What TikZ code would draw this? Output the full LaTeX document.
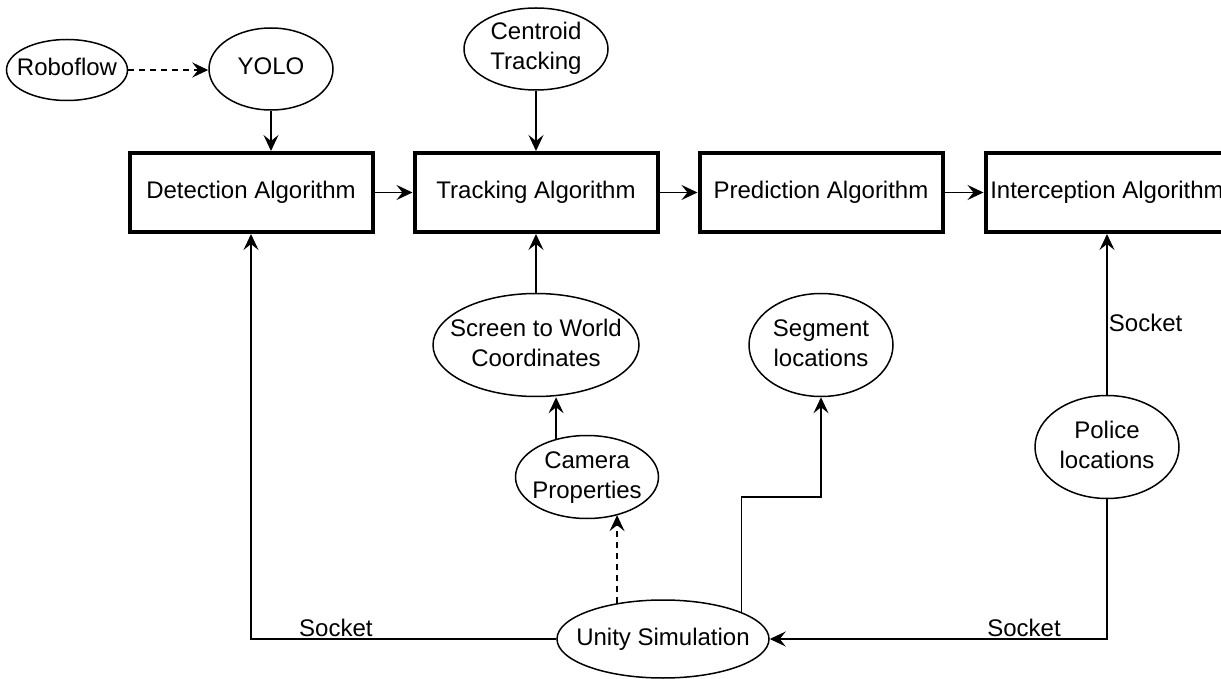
\documentclass[tikz,border=0pt]{standalone}
\usepackage{fontspec}
\setmainfont{Liberation Sans}
\usetikzlibrary{arrows.meta,shapes.geometric}
\newcommand{\zw}[1]{\makebox[0pt]{\begin{tabular}{@{}c@{}}#1\end{tabular}}}
\begin{document}
\begin{tikzpicture}[x=0.5pt,y=-0.5pt,
  every node/.style={font=\fontsize{12}{15}\selectfont},
  oval/.style={ellipse, draw, line width=0.75pt, inner xsep=0pt, inner ysep=-8pt},
  algo/.style={rectangle, draw, line width=2pt, minimum width=121.5pt, minimum height=39.5pt, inner sep=0pt},
  arr/.style={-{Stealth[length=8pt,width=7.5pt,inset=3pt]}, line width=0.75pt},
  dsh/.style={dash pattern=on 3pt off 2.5pt},
  lbl/.style={inner sep=0.6pt}]
\clip (0,0) rectangle (1221,679);
\fill[white] (0,0) rectangle (1221,679);
% ellipses
\node[oval, minimum width=60.5pt, minimum height=30.5pt] (rob) at (67,70) {\zw{Roboflow}};
\node[oval, minimum width=62pt, minimum height=41pt] (yolo) at (271,69) {\zw{YOLO}};
\node[oval, minimum width=72pt, minimum height=41pt] (cen) at (536,49) {\zw{Centroid\\Tracking}};
\node[oval, minimum width=103pt, minimum height=51.5pt] (scr) at (536,345) {\zw{Screen to World\\Coordinates}};
\node[oval, minimum width=72pt, minimum height=51.5pt] (seg) at (821,345) {\zw{Segment\\locations}};
\node[oval, minimum width=71.5pt, minimum height=41.5pt] (cam) at (587,477) {\zw{Camera\\Properties}};
\node[oval, minimum width=72pt, minimum height=51.5pt] (pol) at (1107,447) {\zw{Police\\locations}};
\node[oval, minimum width=106pt, minimum height=39pt] (uni) at (663,639) {\zw{Unity Simulation}};
% boxes
\node[algo] (det) at (251,192.5) {Detection Algorithm};
\node[algo] (trk) at (536,192.5) {Tracking Algorithm};
\node[algo] (pre) at (821,192.5) {Prediction Algorithm};
\node[algo] (int) at (1107,192.5) {Interception Algorithm};
% connectors
\draw[arr, dsh] (rob.east) -- (rob.east -| yolo.west);
\draw[arr] (yolo.south) -- (yolo.south |- det.north);
\draw[arr] (cen) -- (trk);
\draw[arr] (det) -- (trk);
\draw[arr] (trk) -- (pre);
\draw[arr] (pre) -- (int);
\draw[arr] (scr) -- (trk);
\draw[arr] (cam.129.7) -- (cam.129.7 |- scr.south);
\draw[arr, dsh] (uni.142.7) -- (uni.142.7 |- cam.-51.5);
\coordinate (bend) at (739,497);
\draw[arr] (uni.19.7) -- (uni.19.7 |- bend) -| (seg.south);
\draw[arr] (uni.west) -| node[lbl, pos=0.361, anchor=south]{Socket} (det.south);
\draw[arr] (pol.south) |- node[lbl, pos=0.623, anchor=south]{Socket} (uni.east);
\draw[arr] (pol) -- node[lbl, pos=0.447, anchor=west]{Socket} (int);
\end{tikzpicture}
\end{document}
